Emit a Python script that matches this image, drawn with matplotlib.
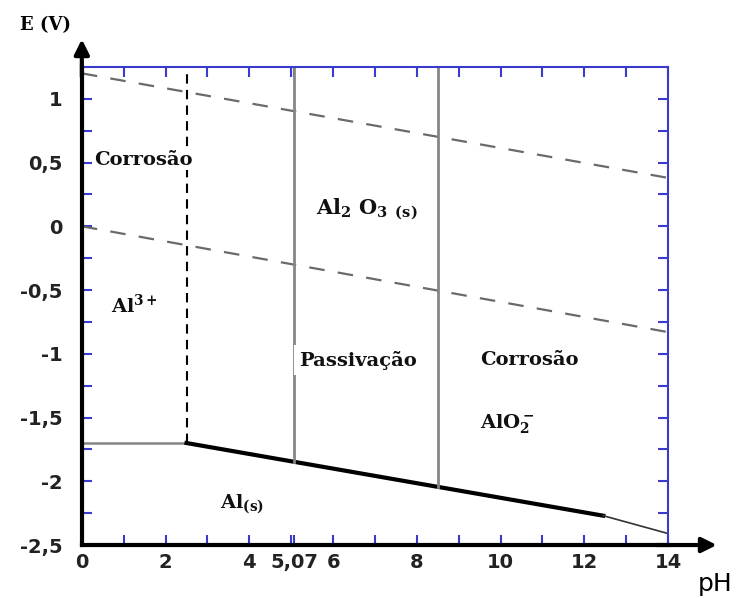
import numpy as np
import matplotlib
matplotlib.use("Agg")
import matplotlib.pyplot as plt

plt.rcParams["mathtext.fontset"] = "custom"
plt.rcParams["mathtext.bf"] = "DejaVu Serif:bold"
plt.rcParams["mathtext.rm"] = "DejaVu Serif:bold"
plt.rcParams["mathtext.default"] = "bf"

# Pourbaix diagram data (Al - H2O)
ph_water = [0, 14]
e_o2 = [1.20, 0.38]       # upper water line
e_h2 = [0.0, -0.83]       # lower water line

ph_al3 = [0, 2.5]
e_al3 = [-1.70, -1.70]

ph_oxide = [2.5, 12.45]
e_oxide = [-1.70, -2.27]

ph_tail = [12.45, 14]
e_tail = [-2.27, -2.41]

ph_dashed = 2.5
ph_bounds = [5.07, 8.5]

x_tick_pos = [0, 2, 4, 5.07, 6, 8, 10, 12, 14]
x_tick_lab = ["0", "2", "4", "5,07", "6", "8", "10", "12", "14"]
y_tick_pos = [1, 0.5, 0, -0.5, -1, -1.5, -2, -2.5]
y_tick_lab = ["1", "0,5", "0", "-0,5", "-1", "-1,5", "-2", "-2,5"]

xmin, xmax = 0, 14
ymin, ymax = -2.5, 1.25

fig = plt.figure(figsize=(7.44, 5.98), dpi=100)
ax = fig.add_axes([0.110, 0.0886, 0.788, 0.7994])

blue = "#3a3acc"
gray = "#858585"

# water lines
ax.plot(ph_water, e_o2, color="#6a6a6a", lw=1.6, dashes=(7, 6))
ax.plot(ph_water, e_h2, color="#6a6a6a", lw=1.6, dashes=(7, 6))

# boundaries
ax.plot(ph_al3, e_al3, color=gray, lw=1.8)
ax.plot([ph_dashed, ph_dashed], [e_al3[1], ymax], color="black", lw=1.5, dashes=(4.5, 3))
ax.plot(ph_oxide, e_oxide, color="black", lw=3)
ax.plot(ph_tail, e_tail, color="#333333", lw=1.2)
for p in ph_bounds:
    e_bot = np.interp(p, ph_oxide, e_oxide)
    ax.plot([p, p], [e_bot, ymax], color=gray, lw=2)

# labels of regions
kw = dict(fontfamily="DejaVu Serif", fontweight="bold", fontsize=14, color="#111111")
ax.text(0.3, 0.52, "Corrosão", va="center", ha="left",
        bbox=dict(facecolor="white", edgecolor="none", pad=1), **kw)
ax.text(0.7, -0.62, r"Al$^{3+}$", va="center", ha="left", **kw)
ax.text(5.6, 0.13, r"Al$_2$ O$_3$ $_{(s)}$", va="center", ha="left",
        **{**kw, "fontsize": 15})
ax.text(5.2, -1.05, "Passivação", va="center", ha="left",
        bbox=dict(facecolor="white", edgecolor="none", pad=4), **kw)
ax.text(9.5, -1.05, "Corrosão", va="center", ha="left", **kw)
ax.text(9.5, -1.55, r"AlO$_2^-$", va="center", ha="left", **kw)
ax.text(3.3, -2.18, r"Al$_{(s)}$", va="center", ha="left", **kw)

# axes styling
ax.set_xlim(xmin, xmax)
ax.set_ylim(ymin, ymax)
ax.set_xticks(x_tick_pos)
ax.set_xticklabels(x_tick_lab)
ax.set_xticks(np.arange(1, 14, 1), minor=True)
ax.set_yticks(y_tick_pos)
ax.set_yticklabels(y_tick_lab)
ax.set_yticks(np.arange(-2.25, 1.25, 0.25), minor=True)
for t in ax.get_xticklabels() + ax.get_yticklabels():
    t.set_fontfamily("DejaVu Sans")
    t.set_fontweight("bold")
    t.set_fontsize(14)
    t.set_color("#222222")
ax.tick_params(which="both", direction="in", top=True, right=True,
               color=blue, width=1.5, length=7)
ax.tick_params(axis="x", pad=6)
ax.tick_params(axis="y", pad=14)

ax.spines["left"].set_linewidth(3)
ax.spines["bottom"].set_linewidth(3)
ax.spines["top"].set_color(blue)
ax.spines["right"].set_color(blue)
ax.spines["top"].set_linewidth(1.5)
ax.spines["right"].set_linewidth(1.5)

# arrows on the main axes
ax.annotate("", xy=(0, 1.058), xytext=(0, 0.98), xycoords="axes fraction",
            arrowprops=dict(arrowstyle="-|>", lw=3, color="black",
                            mutation_scale=22, shrinkA=0, shrinkB=0))
ax.annotate("", xy=(1.083, 0), xytext=(0.98, 0), xycoords="axes fraction",
            arrowprops=dict(arrowstyle="-|>", lw=3, color="black",
                            mutation_scale=22, shrinkA=0, shrinkB=0))

fig.text(0.027, 0.958, "E (V)", fontfamily="DejaVu Serif", fontweight="bold",
         fontsize=13, va="center", ha="left")
fig.text(0.938, 0.024, "pH", fontfamily="DejaVu Sans", fontsize=18,
         va="center", ha="left")

fig.savefig("out.png", dpi=100)
